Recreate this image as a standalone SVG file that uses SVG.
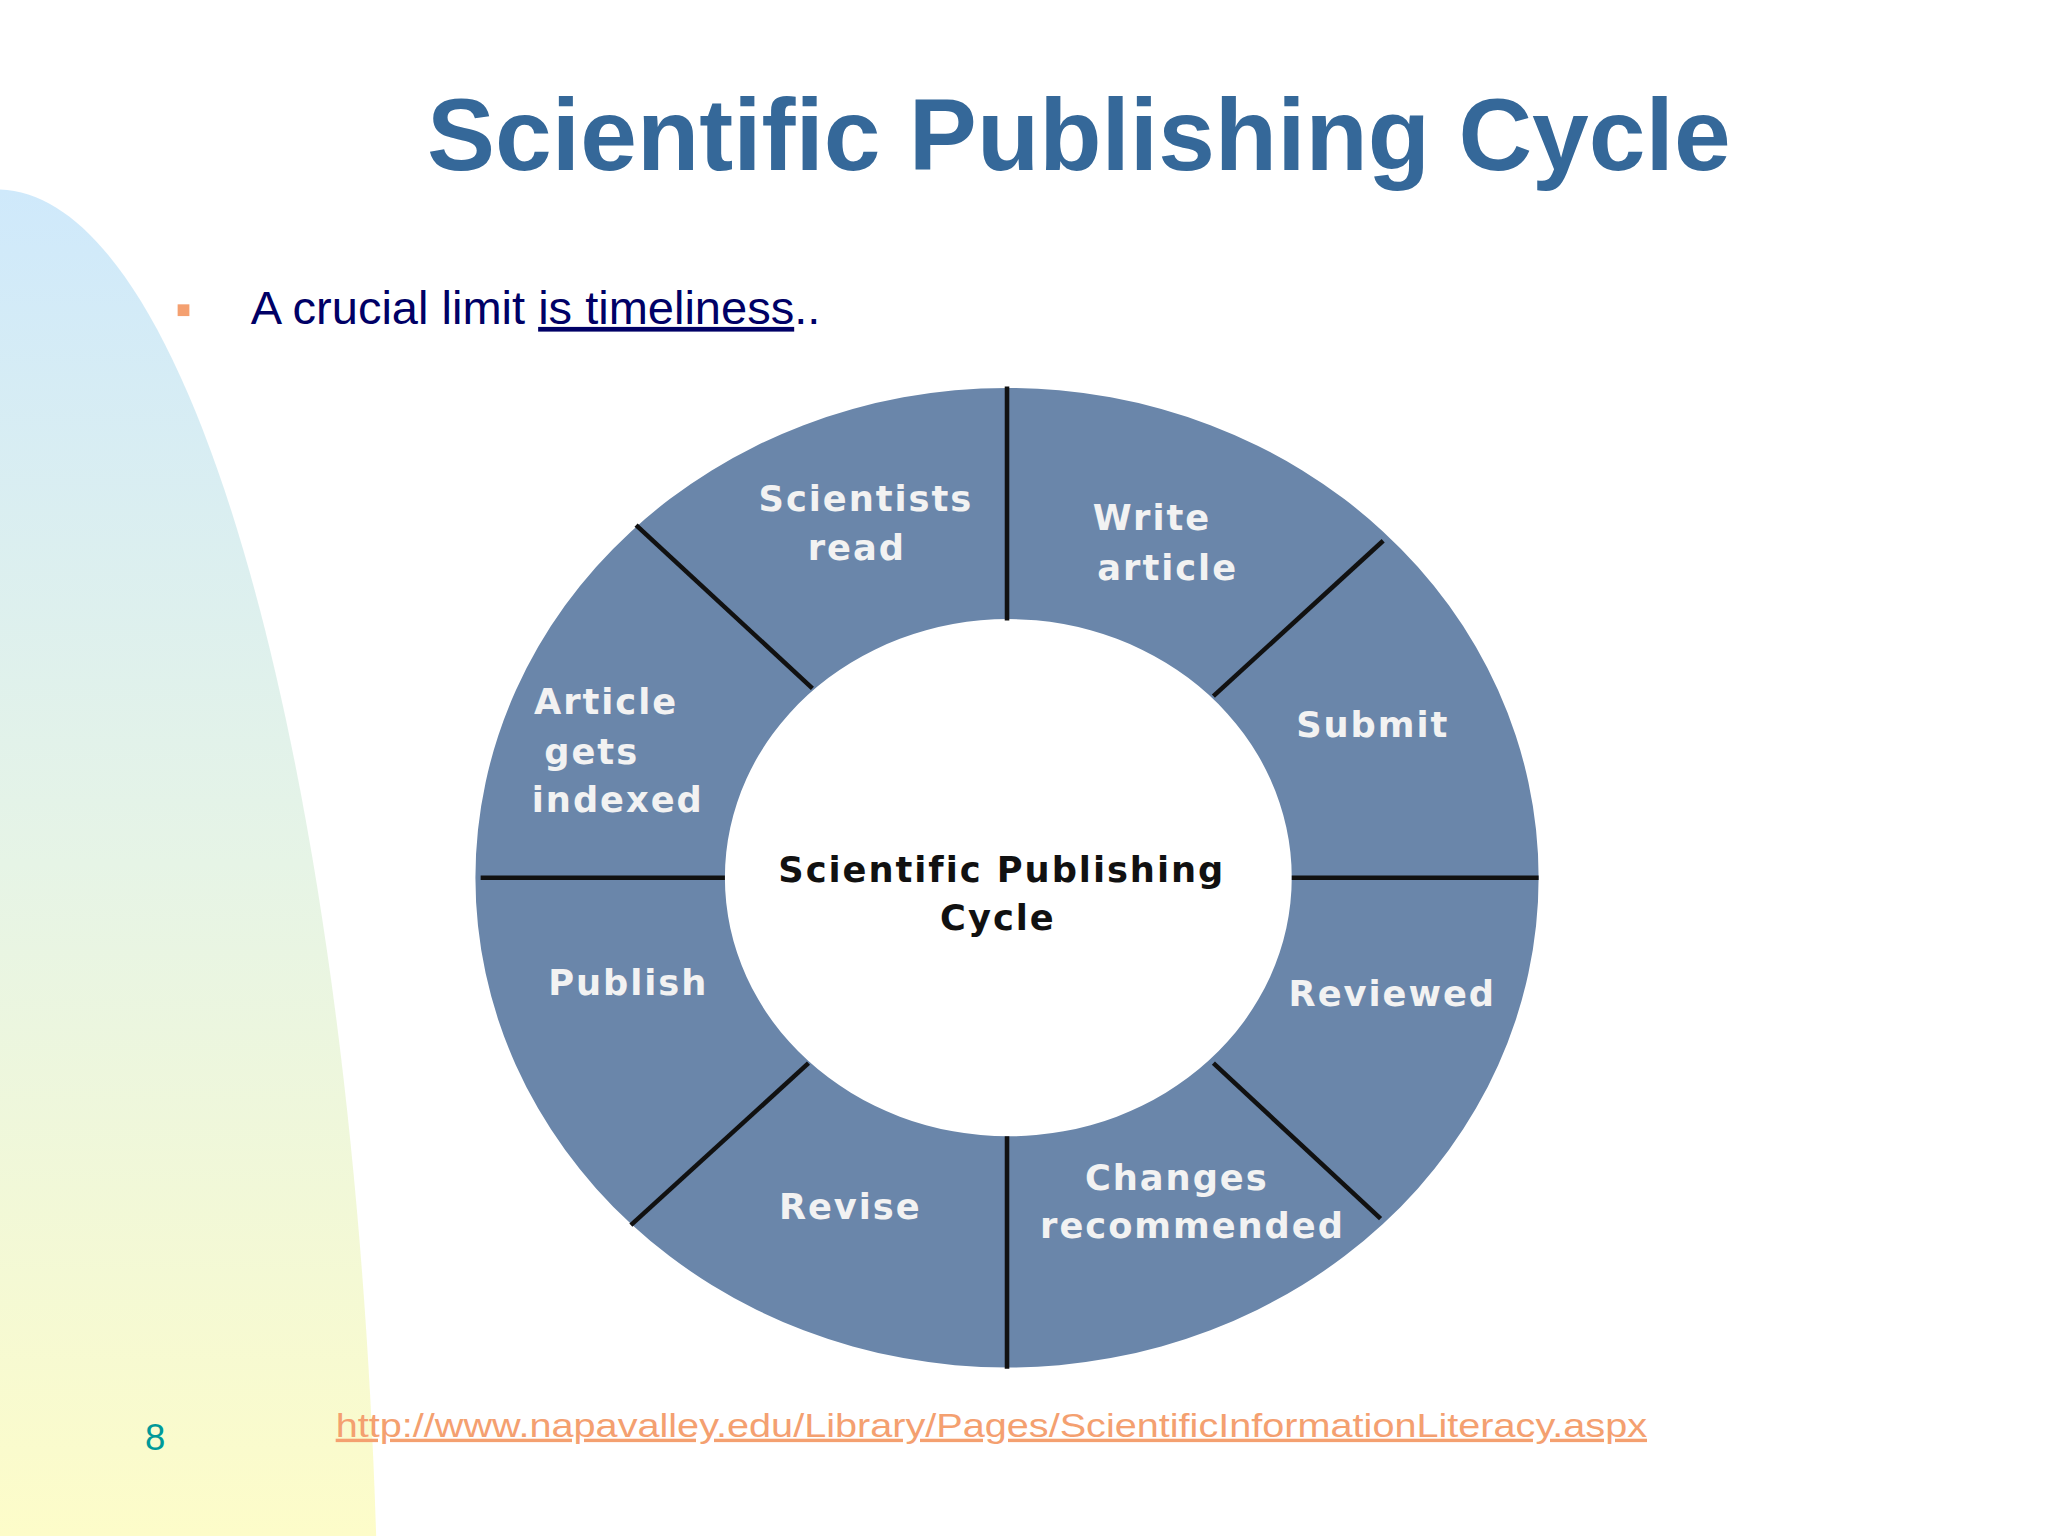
<svg xmlns="http://www.w3.org/2000/svg" width="2048" height="1536" viewBox="0 0 2048 1536">
<defs>
<linearGradient id="bg" x1="0" y1="0" x2="0" y2="1">
<stop offset="0" stop-color="#cfe9fb"/>
<stop offset="0.5" stop-color="#e6f4e6"/>
<stop offset="1" stop-color="#fdfcc9"/>
</linearGradient>
<style>
.lbl{font-family:"DejaVu Sans",sans-serif;font-weight:bold;font-size:27px;fill:#f2f2f2;text-anchor:middle;letter-spacing:1.5px}
.ctr{font-family:"DejaVu Sans",sans-serif;font-weight:bold;font-size:27px;fill:#111;text-anchor:middle;letter-spacing:1.5px}
.div{stroke:#111;stroke-width:3.5}
</style>
</defs>
<rect width="2048" height="1536" fill="#fff"/>
<g transform="scale(1.30612)">
<path d="M0,145 C150,150 270,600 288,1176 L0,1176 Z" fill="url(#bg)"/>
<text x="826" y="130" font-family="Liberation Sans,Arial,sans-serif" font-weight="bold" font-size="78" fill="#356899" text-anchor="middle" textLength="998" lengthAdjust="spacingAndGlyphs">Scientific Publishing Cycle</text>
<rect x="136" y="233" width="9" height="9" fill="#f4a070"/>
<text x="192" y="248" font-family="Liberation Sans,Arial,sans-serif" font-size="36" fill="#000066">A crucial limit <tspan text-decoration="underline">is timeliness</tspan>..</text>
<text x="111" y="1110" font-family="Liberation Sans,Arial,sans-serif" font-size="28" fill="#009999">8</text>
<text x="257" y="1100" font-family="Liberation Sans,Arial,sans-serif" font-size="26" fill="#f4a070" text-decoration="underline" textLength="1004" lengthAdjust="spacingAndGlyphs">http://www.napavalley.edu/Library/Pages/ScientificInformationLiteracy.aspx</text>
<g id="ring">
<path fill="#6a86aa" fill-rule="evenodd" d="M364,672 A407,375 0 1 0 1178,672 A407,375 0 1 0 364,672 Z M555,672 A217,198 0 1 0 989,672 A217,198 0 1 0 555,672 Z"/>
</g>
<g id="connectors">
<line class="div" x1="771" y1="296" x2="771" y2="475"/>
<line class="div" x1="771" y1="870" x2="771" y2="1048"/>
<line class="div" x1="368" y1="672" x2="555" y2="672"/>
<line class="div" x1="989" y1="672" x2="1178" y2="672"/>
<line class="div" x1="487" y1="402" x2="622" y2="527"/>
<line class="div" x1="1059" y1="414" x2="929" y2="533"/>
<line class="div" x1="483" y1="938" x2="619" y2="814"/>
<line class="div" x1="929" y1="814" x2="1057" y2="933"/>
</g>
<g id="n-scientists"><text class="lbl" x="663" y="391">Scientists</text><text class="lbl" x="656" y="429">read</text></g>
<g id="n-write"><text class="lbl" x="882" y="406">Write</text><text class="lbl" x="894" y="444">article</text></g>
<g id="n-submit"><text class="lbl" x="1051" y="564">Submit</text></g>
<g id="n-indexed"><text class="lbl" x="464" y="547">Article</text><text class="lbl" x="453" y="585">gets</text><text class="lbl" x="473" y="622">indexed</text></g>
<g id="n-center"><text class="ctr" x="767" y="675">Scientific Publishing</text><text class="ctr" x="764" y="712">Cycle</text></g>
<g id="n-publish"><text class="lbl" x="481" y="762">Publish</text></g>
<g id="n-reviewed"><text class="lbl" x="1066" y="770">Reviewed</text></g>
<g id="n-revise"><text class="lbl" x="651" y="933">Revise</text></g>
<g id="n-changes"><text class="lbl" x="901" y="911">Changes</text><text class="lbl" x="913" y="948">recommended</text></g>
</g>
</svg>
